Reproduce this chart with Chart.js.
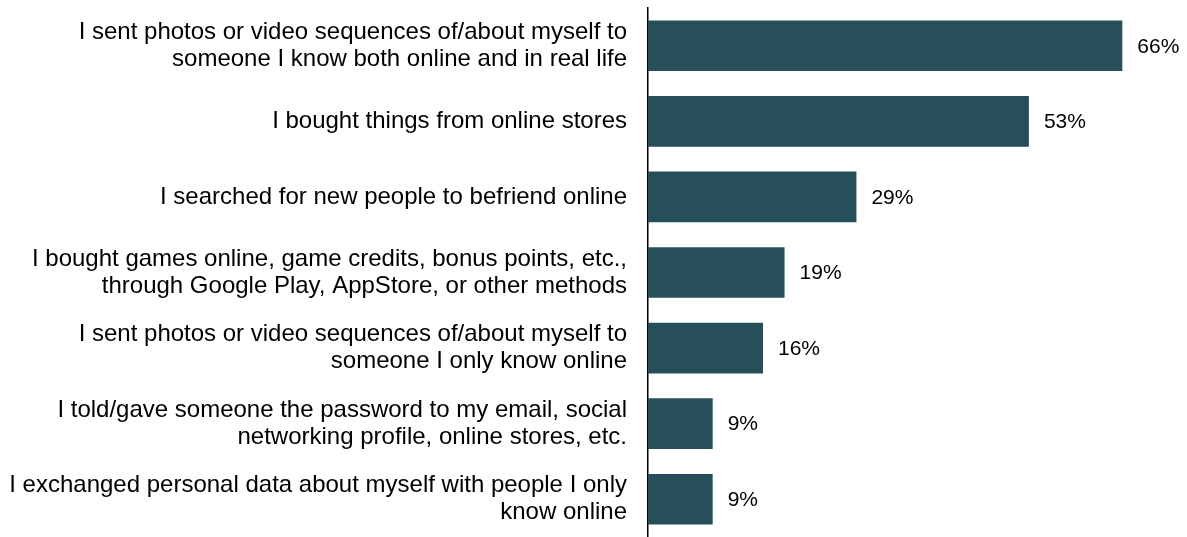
<!DOCTYPE html>
<html>
<head>
<meta charset="utf-8">
<script src="https://cdn.jsdelivr.net/npm/chart.js@4/dist/chart.umd.min.js"></script>
<style>
  html, body { margin: 0; padding: 0; background: #fff; }
  #wrap { width: 1187px; height: 537px; }
</style>
</head>
<body>
<div id="wrap"><canvas id="chart" width="1187" height="537"></canvas></div>
<script>
// activities, one label per bar (multi-line labels as arrays)
const activities = [
  ["I sent photos or video sequences of/about myself to", "someone I know both online and in real life"],
  "I bought things from online stores",
  "I searched for new people to befriend online",
  ["I bought games online, game credits, bonus points, etc.,", "through Google Play, AppStore, or other methods"],
  ["I sent photos or video sequences of/about myself to", "someone I only know online"],
  ["I told/gave someone the password to my email, social", "networking profile, online stores, etc."],
  ["I exchanged personal data about myself with people I only", "know online"]
];
const shares = [66, 53, 29, 19, 16, 9, 9];

const barColor = "#264f5a";

// percent labels to the right of each bar
const valueLabels = {
  id: "valueLabels",
  afterDatasetsDraw(chart) {
    const { ctx, scales: { x, y } } = chart;
    ctx.save();
    ctx.font = "21px 'Liberation Sans', Arial, sans-serif";
    ctx.fillStyle = "#000";
    ctx.textAlign = "left";
    ctx.textBaseline = "middle";
    shares.forEach((v, i) => {
      ctx.fillText(v + "%", x.getPixelForValue(v) + 15, y.getPixelForValue(i) + 1);
    });
    ctx.restore();
  }
};

new Chart(document.getElementById("chart"), {
  type: "bar",
  data: {
    labels: activities,
    datasets: [{
      data: shares,
      backgroundColor: barColor,
      barPercentage: 0.67,
      categoryPercentage: 1
    }]
  },
  options: {
    indexAxis: "y",
    responsive: false,
    animation: false,
    layout: { padding: { top: 8, right: 0, bottom: 0, left: 0 } },
    plugins: { legend: { display: false }, tooltip: { enabled: false } },
    scales: {
      x: { display: false, min: 0, max: 75 },
      y: {
        // fixed axis width, and no extra room reserved for the edge labels
        afterFit(scale) {
          scale.width = 648;
          scale.paddingTop = 0;
          scale.paddingBottom = 0;
        },
        grid: { drawOnChartArea: false, drawTicks: false },
        border: { display: true, color: "#000", width: 1.5 },
        ticks: {
          color: "#000",
          padding: 21,
          font: { family: "'Liberation Sans', Arial, sans-serif", size: 24, lineHeight: 1.12 }
        }
      }
    }
  },
  plugins: [valueLabels]
});
</script>
</body>
</html>
